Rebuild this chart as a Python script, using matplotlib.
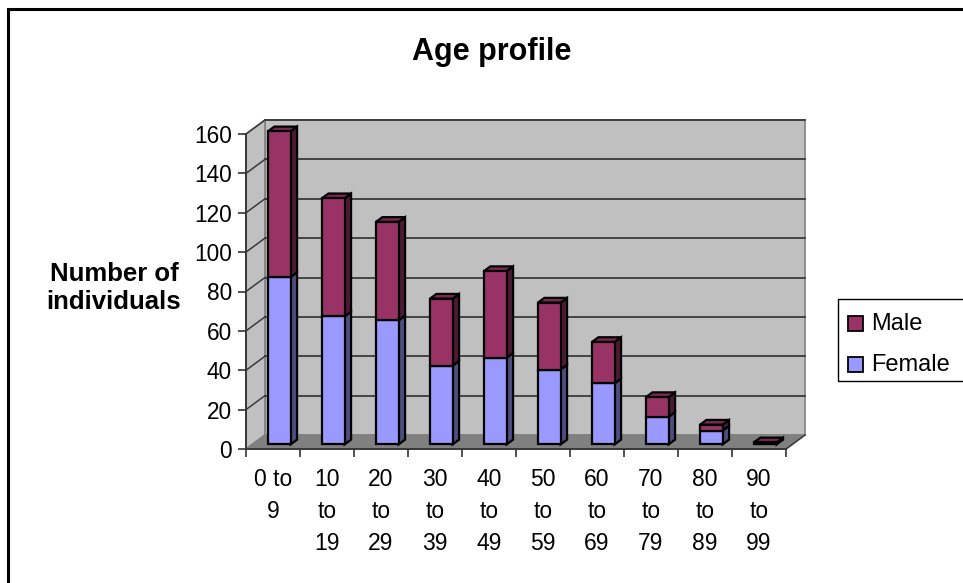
import matplotlib
matplotlib.use("Agg")
import matplotlib.pyplot as plt
from matplotlib.patches import Polygon, Rectangle
import numpy as np

plt.rcParams['font.family'] = ['Liberation Sans', 'DejaVu Sans']

categories = ["0 to\n9", "10\nto\n19", "20\nto\n29", "30\nto\n39", "40\nto\n49",
              "50\nto\n59", "60\nto\n69", "70\nto\n79", "80\nto\n89", "90\nto\n99"]
female = [85, 65, 63, 40, 44, 38, 31, 14, 7, 0]
male = [74, 60, 50, 34, 44, 34, 21, 10, 3, 1]
yticks = [0, 20, 40, 60, 80, 100, 120, 140, 160]
series_names = ["Male", "Female"]
male_colors = ("#993366", "#4d1a33", "#7a2952")
female_colors = ("#9999ff", "#4d4d80", "#7a7acc")

W, H = 963, 583
fig = plt.figure(figsize=(W / 100, H / 100), dpi=100)
fig.patch.set_facecolor("white")

def fx(x):
    return x / W

def fy(y):
    return 1 - y / H

# outer border
fig.patches.append(Rectangle((fx(8), fy(600)), fx(980) - fx(8), fy(9) - fy(600),
                             transform=fig.transFigure, fill=False, edgecolor="black",
                             linewidth=2.2))

x0, x1, yb, yt = 246, 786, 449, 134
ax = fig.add_axes([fx(x0), fy(yb), fx(x1) - fx(x0), fy(yt) - fy(yb)])
n = len(categories)
ax.set_xlim(-0.5, n - 0.5)
ax.set_ylim(0, 160)
ax.set_facecolor("none")
ppx = (x1 - x0) / n
ppy = (yb - yt) / 160.0
dX = 19 / ppx
dY = 14 / ppy

L, R = -0.5, n - 0.5
grid_c = "#3a3a3a"
wall_c = "#c0c0c0"
edge_c = "#808080"

# back wall
ax.add_patch(Polygon([(L + dX, dY), (R + dX, dY), (R + dX, 160 + dY), (L + dX, 160 + dY)],
                     closed=True, facecolor=wall_c, edgecolor=edge_c, lw=1.2,
                     clip_on=False, zorder=0))
# side wall
ax.add_patch(Polygon([(L, 0), (L + dX, dY), (L + dX, 160 + dY), (L, 160)],
                     closed=True, facecolor=wall_c, edgecolor=edge_c, lw=1.2,
                     clip_on=False, zorder=0))
# floor
ax.add_patch(Polygon([(L, 0), (R, 0), (R + dX, dY), (L + dX, dY)],
                     closed=True, facecolor="#808080", edgecolor="#808080", lw=1,
                     clip_on=False, zorder=0.5))
# gridlines
for v in yticks[1:]:
    ax.plot([L + dX, R + dX], [v + dY, v + dY], color=grid_c, lw=1.3,
            clip_on=False, zorder=0.6)
    ax.plot([L, L + dX], [v, v + dY], color=grid_c, lw=1.1,
            clip_on=False, zorder=0.6)
ax.plot([R, R + dX], [0, dY], color=grid_c, lw=1.1, clip_on=False, zorder=0.7)

# bars
f0, f1 = 0.33, 0.67
bw = 0.42
xs = np.arange(n) + f0 * dX
base = f0 * dY
ddx = (f1 - f0) * dX
ddy = (f1 - f0) * dY

def draw_segments(vals, bottoms, colors, draw_top):
    face, side, top = colors
    for x, v, b in zip(xs, vals, bottoms):
        if v <= 0:
            continue
        yb0 = base + b
        yt0 = base + b + v
        xl, xr = x - bw / 2, x + bw / 2
        ax.add_patch(Polygon([(xr, yb0), (xr + ddx, yb0 + ddy), (xr + ddx, yt0 + ddy), (xr, yt0)],
                             closed=True, facecolor=side, edgecolor="black", lw=1.6,
                             clip_on=False, zorder=2))
        if draw_top:
            ax.add_patch(Polygon([(xl, yt0), (xr, yt0), (xr + ddx, yt0 + ddy), (xl + ddx, yt0 + ddy)],
                                 closed=True, facecolor=top, edgecolor="black", lw=1.6,
                                 clip_on=False, zorder=2))
    ax.bar(xs, vals, width=bw, bottom=np.array(bottoms) + base, color=face,
           edgecolor="black", linewidth=1.6, zorder=3, clip_on=False)

draw_segments(female, [0] * n, female_colors, False)
draw_segments(male, female, male_colors, True)

# spines & ticks
for s in ["top", "right"]:
    ax.spines[s].set_visible(False)
for s in ["left", "bottom"]:
    ax.spines[s].set_color("#333333")
    ax.spines[s].set_linewidth(1.3)
    ax.spines[s].set_zorder(4)
ax.set_yticks(yticks)
ax.set_yticklabels([str(v) for v in yticks], fontsize=16.3)
ax.tick_params(axis="y", direction="out", length=6, width=1.2, color="#333333", pad=4)
ax.set_xticks(np.arange(n + 1) - 0.5)
ax.set_xticklabels([])
ax.tick_params(axis="x", which="major", direction="out", length=6, width=1.2, color="#333333")
ax.set_xticks(np.arange(n), minor=True)
ax.set_xticklabels(categories, minor=True, fontsize=16.5, linespacing=1.5, va="top")
ax.tick_params(axis="x", which="minor", length=0, pad=14)

# title and y label
fig.text(fx(492), fy(52), "Age profile", fontsize=22, fontweight="bold",
         ha="center", va="center")
fig.text(fx(114), fy(288), "Number of\nindividuals", fontsize=18.5, fontweight="bold",
         ha="center", va="center", multialignment="center", linespacing=1.25)

# legend
fig.patches.append(Rectangle((fx(837.5), fy(381)), fx(990) - fx(837.5), fy(299) - fy(381),
                             transform=fig.transFigure, fill=False, edgecolor="black",
                             linewidth=1.0))
sq = 15
for name, cols, cy in zip(series_names, [male_colors, female_colors], [323, 364]):
    fig.patches.append(Rectangle((fx(848), fy(cy + sq / 2)), sq / W, sq / H,
                                 transform=fig.transFigure, facecolor=cols[0],
                                 edgecolor="black", linewidth=1.3))
    fig.text(fx(871), fy(cy + 7), name, fontsize=17, ha="left", va="baseline")

fig.savefig("out.png", dpi=100)
